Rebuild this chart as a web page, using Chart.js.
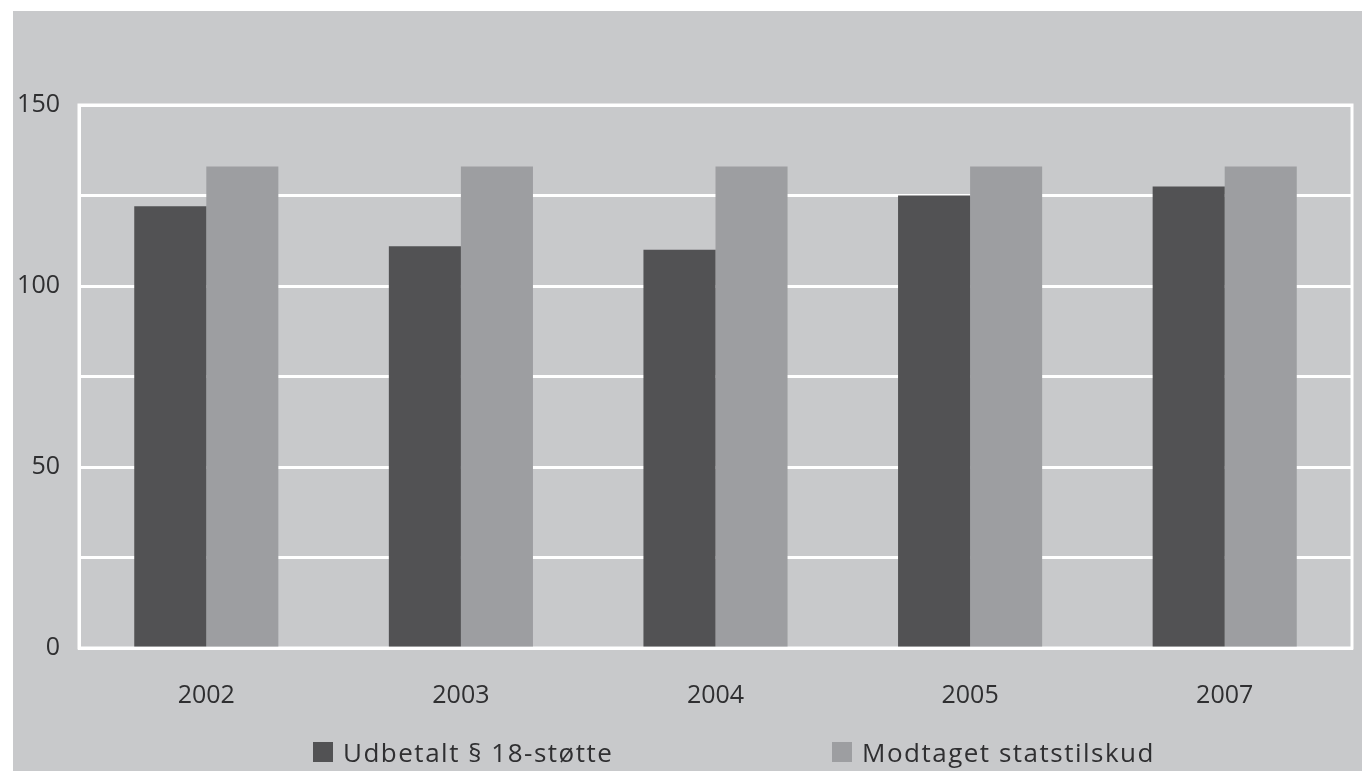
<!DOCTYPE html>
<html>
<head>
<meta charset="utf-8">
<script src="https://cdn.jsdelivr.net/npm/chart.js@4/dist/chart.umd.min.js"></script>
<style>
  body { margin: 0; background: #fff; width: 1362px; height: 771px; overflow: hidden; }
  #panel { position: absolute; left: 13px; top: 11px; width: 1349px; height: 760px; background: #c8c9cb; }
  #chart { position: absolute; left: 0; top: 0; }
  .lg { position: absolute; top: 723px; height: 36px; display: flex; align-items: center;
        font-family: "Open Sans", sans-serif; font-size: 26px; letter-spacing: 1.5px; color: #2f2f31; white-space: nowrap; }
  .lg span.box { display: inline-block; width: 20px; height: 20px; margin-right: 10px; }
</style>
</head>
<body>
<div id="panel">
  <canvas id="chart" width="1349" height="760"></canvas>
  <div id="legend"></div>
</div>
<script>
const years = ['2002', '2003', '2004', '2005', '2007'];
const udbetalt = [122, 111, 110, 125, 127.5];
const modtaget = [133, 133, 133, 133, 133];
const seriesNames = ['Udbetalt § 18-støtte', 'Modtaget statstilskud'];
const yTicks = [0, 50, 100, 150];

const font = { family: '"Open Sans", sans-serif', size: 25 };

// white frame round the plot area
const frame = {
	id: 'frame',
	beforeDatasetsDraw(chart) {
		const a = chart.chartArea, ctx = chart.ctx;
		ctx.save();
		ctx.strokeStyle = '#ffffff';
		ctx.lineWidth = 3;
		ctx.strokeRect(a.left, a.top, a.right - a.left, a.bottom - a.top);
		ctx.restore();
	}
};

const chart = new Chart(document.getElementById('chart'), {
	type: 'bar',
	data: {
		labels: years,
		datasets: [
			{ label: seriesNames[0], data: udbetalt, backgroundColor: '#525254' },
			{ label: seriesNames[1], data: modtaget, backgroundColor: '#9d9ea1' }
		]
	},
	options: {
		responsive: false,
		animation: false,
		categoryPercentage: 0.566,
		barPercentage: 1,
		layout: { padding: { top: 94, right: 10, left: 0, bottom: 0 } },
		plugins: { legend: { display: false }, tooltip: { enabled: false } },
		scales: {
			x: {
				grid: { display: false },
				border: { color: '#ffffff', width: 3 },
				ticks: { color: '#2f2f31', font: font, padding: 25 },
				afterFit(scale) { scale.height = 123; }
			},
			y: {
				min: 0, max: 150,
				grid: { color: '#ffffff', lineWidth: 3, drawTicks: false },
				border: { color: '#ffffff', width: 3 },
				ticks: {
					stepSize: 25, autoSkip: false, color: '#2f2f31', font: font, padding: 19,
					callback: v => yTicks.includes(v) ? v : ''
				},
				afterFit(scale) { scale.width = 66; }
			}
		}
	},
	plugins: [frame]
});

// legend as html under the plot
const legendLeft = [300, 819];
const legend = document.getElementById('legend');
chart.data.datasets.forEach((ds, i) => {
	const item = document.createElement('div');
	item.className = 'lg';
	item.style.left = legendLeft[i] + 'px';
	item.innerHTML = '<span class="box" style="background:' + ds.backgroundColor + '"></span>' + ds.label;
	legend.appendChild(item);
});
</script>
</body>
</html>
